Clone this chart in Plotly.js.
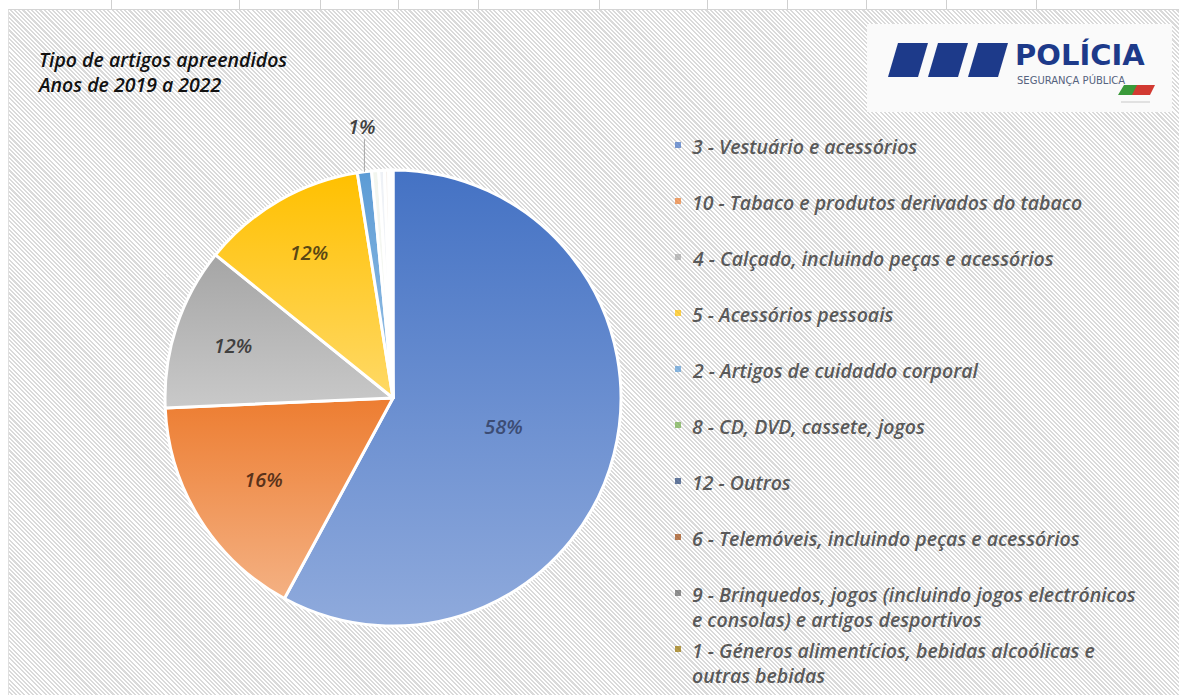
<!DOCTYPE html>
<html>
<head>
<meta charset="utf-8">
<script src="https://cdn.plot.ly/plotly-3.0.1.min.js"></script>
<style>
  html, body { margin:0; padding:0; background:#ffffff; }
  #wrap { position:relative; width:1179px; height:695px; overflow:hidden; background:#ffffff; }
  #hatch { position:absolute; left:8px; top:9px; right:0; bottom:0;
           border-top:1px solid #d4d4d4; border-left:1px solid #e0e0e0;
           background: repeating-linear-gradient(45deg, #ffffff 0px, #ffffff 1.5px, #dadada 1.5px, #dadada 3px); }
  .tick { position:absolute; top:0; width:1px; height:9px; background:#d0d0d0; }
  #chart { position:absolute; left:0; top:0; width:1179px; height:695px; }
</style>
</head>
<body>
<div id="wrap">
  <div id="hatch"></div>
  <div id="chart"></div>
</div>
<script>
// ---------- data ----------
const categories = [
  "3 - Vestuário e acessórios",
  "10 - Tabaco e produtos derivados do tabaco",
  "4 - Calçado, incluindo peças e acessórios",
  "5 - Acessórios pessoais",
  "2 - Artigos de cuidaddo corporal",
  "8 - CD, DVD, cassete, jogos",
  "12 - Outros",
  "6 - Telemóveis, incluindo peças e acessórios",
  "9 - Brinquedos, jogos (incluindo jogos electrónicos<br>e consolas) e artigos desportivos",
  "1 - Géneros alimentícios, bebidas alcoólicas e<br>outras bebidas"
];
const shares = [57.9, 16.4, 11.5, 11.7, 1.0, 0.5, 0.4, 0.3, 0.2, 0.1];
const legendColors = ["#4472C4", "#ED7D31", "#A5A5A5", "#FFC000", "#5B9BD5",
                      "#70AD47", "#264478", "#9E480E", "#636363", "#997300"];
// pie fills: top colour -> bottom colour (vertical gradient); tiny slices render almost white
const sliceTop = ["#4472C4", "#ED7D31", "#A5A5A5", "#FFC000", "#5B9BD5",
                  "#F2F5EE", "#EEF1F6", "#F6F1EE", "#F1F1F1", "#F5F2EA"];
const sliceBottom = ["#8FAADC", "#F4B183", "#C9C9C9", "#FFD966", "#9DC3E6",
                     "#FAFBF8", "#F8F9FB", "#FBF8F6", "#F9F9F9", "#FBF9F5"];
const labelColors = ["#3C4C74", "#5A321A", "#404040", "#5A4714", "#404040",
                     "#404040", "#404040", "#404040", "#404040", "#404040"];
const titleLines = ["Tipo de artigos apreendidos", "Anos de 2019 a 2022"];

// ---------- geometry (pixel helper axes) ----------
const W = 1179, H = 695;
const pieCx = 393, pieCy = 398, pieR = 228;
const dom = {
  x: [(pieCx - pieR) / W, (pieCx + pieR) / W],
  y: [(H - pieCy - pieR) / H, (H - pieCy + pieR) / H]
};

const total = shares.reduce((a, b) => a + b, 0);
const shownInside = [true, true, true, true, false, false, false, false, false, false];
const textpos = shares.map((v, i) => shownInside[i] ? "inside" : "none");
const labelFont = { family: "Open Sans", size: 20, style: "italic", weight: 600 };

const pie = {
  type: "pie",
  labels: categories,
  values: shares,
  sort: false,
  direction: "clockwise",
  rotation: 0,
  domain: dom,
  marker: { colors: sliceTop, line: { color: "#ffffff", width: 3 } },
  textposition: textpos,
  texttemplate: "%{percent:.0%}",
  insidetextorientation: "horizontal",
  insidetextfont: Object.assign({}, labelFont, { color: labelColors }),
  showlegend: false,
  hoverinfo: "none"
};

const annotations = [];
const shapes = [];

// outside label for the small 5th slice, placed from its mid angle
(function () {
  let cum = 0;
  for (let i = 0; i < 4; i++) cum += shares[i];
  const mid = (cum + shares[4] / 2) / total * 2 * Math.PI;
  const ex = pieCx + pieR * Math.sin(mid), ey = pieCy - pieR * Math.cos(mid);
  const lx = pieCx + (pieR + 46) * Math.sin(mid), ly = pieCy - (pieR + 46) * Math.cos(mid);
  annotations.push({
    xref: "x", yref: "y", x: lx + 3, y: ly, showarrow: false,
    text: Math.round(shares[4] / total * 100) + "%",
    font: Object.assign({}, labelFont, { color: "#404040" }),
    xanchor: "center", yanchor: "middle"
  });
  shapes.push({ type: "line", xref: "x", yref: "y", x0: ex, x1: ex, y0: ey, y1: ly + 13,
                line: { color: "#a6a6a6", width: 1 } });
})();

// legend drawn as text
const legTop = 145, legStep = 56, legTextX = 690, legMarkX = 678;
const legFont = { family: "Open Sans", size: 19.5, style: "italic", weight: 600, color: "#595959" };
categories.forEach((c, i) => {
  const yc = legTop + legStep * i;
  annotations.push({
    xref: "x", yref: "y", x: legTextX, y: yc - 13.7, xanchor: "left", yanchor: "top",
    align: "left", showarrow: false, text: c, font: legFont
  });
  shapes.push({ type: "rect", xref: "x", yref: "y", x0: legMarkX - 3, x1: legMarkX + 3,
                y0: yc - 3, y1: yc + 3, fillcolor: legendColors[i], line: { width: 0 }, opacity: 0.7 });
});

// title
annotations.push({
  xref: "x", yref: "y", x: 35, y: 43.5, xanchor: "left", yanchor: "top", align: "left",
  showarrow: false, text: titleLines.join("<br>"),
  font: { family: "Open Sans", size: 19.5, style: "italic", weight: 600, color: "#111111" }
});

// logo (decoration)
shapes.push({ type: "rect", xref: "x", yref: "y", x0: 867, x1: 1172, y0: 24, y1: 112,
              fillcolor: "#fafafa", line: { width: 0 }, layer: "below" });
[0, 1, 2].forEach(k => {
  const x0 = 898 + 40 * k;
  shapes.push({ type: "path", xref: "x", yref: "y",
    path: `M ${x0},43 L ${x0 + 30},43 L ${x0 + 20},77 L ${x0 - 10},77 Z`,
    fillcolor: "#1d3a8a", line: { width: 0 } });
});
shapes.push({ type: "path", xref: "x", yref: "y",
  path: "M 1124,85 L 1139,85 L 1134,95 L 1118,95 Z", fillcolor: "#3a9a3a", line: { width: 0 } });
shapes.push({ type: "path", xref: "x", yref: "y",
  path: "M 1137,85 L 1155,85 L 1150,95 L 1132,95 Z", fillcolor: "#d23a32", line: { width: 0 } });
shapes.push({ type: "line", xref: "x", yref: "y", x0: 1121, x1: 1150, y0: 102, y1: 102,
  line: { color: "#c8c8c8", width: 1 } });
annotations.push({ xref: "x", yref: "y", x: 1013, y: 55, xanchor: "left", yanchor: "middle",
  showarrow: false, text: "<b>POLÍCIA</b>",
  font: { family: "DejaVu Sans", size: 29, color: "#1d3a8a" } });
annotations.push({ xref: "x", yref: "y", x: 1015, y: 80, xanchor: "left", yanchor: "middle",
  showarrow: false, text: "SEGURANÇA PÚBLICA",
  font: { family: "DejaVu Sans", size: 10, color: "#55627e" } });

const layout = {
  width: W, height: H,
  margin: { l: 0, r: 0, t: 0, b: 0, pad: 0 },
  paper_bgcolor: "rgba(0,0,0,0)",
  plot_bgcolor: "rgba(0,0,0,0)",
  xaxis: { range: [0, W], visible: false, fixedrange: true, domain: [0, 1] },
  yaxis: { range: [H, 0], visible: false, fixedrange: true, domain: [0, 1] },
  showlegend: false,
  annotations: annotations,
  shapes: shapes
};

// top spreadsheet grid ticks (decoration)
[111, 239, 320, 398, 478, 599, 707, 787, 866, 946, 1036].forEach(x => {
  const d = document.createElement("div");
  d.className = "tick"; d.style.left = x + "px";
  document.getElementById("wrap").appendChild(d);
});

Plotly.newPlot("chart", [pie], layout, { staticPlot: true, displayModeBar: false }).then(gd => {
  // vertical gradient fills like the original
  const svg = gd.querySelector("svg.main-svg");
  const defs = svg.querySelector("defs");
  const NS = "http://www.w3.org/2000/svg";
  const paths = gd.querySelectorAll(".pielayer .slice path.surface");
  paths.forEach((p, i) => {
    const g = document.createElementNS(NS, "linearGradient");
    g.setAttribute("id", "pgrad" + i);
    g.setAttribute("x1", "0"); g.setAttribute("y1", "0");
    g.setAttribute("x2", "0"); g.setAttribute("y2", "1");
    const s1 = document.createElementNS(NS, "stop");
    s1.setAttribute("offset", "0"); s1.setAttribute("stop-color", sliceTop[i]);
    const s2 = document.createElementNS(NS, "stop");
    s2.setAttribute("offset", "1"); s2.setAttribute("stop-color", sliceBottom[i]);
    g.appendChild(s1); g.appendChild(s2);
    defs.appendChild(g);
    p.style.fill = "url(#pgrad" + i + ")";
  });
});
</script>
</body>
</html>
